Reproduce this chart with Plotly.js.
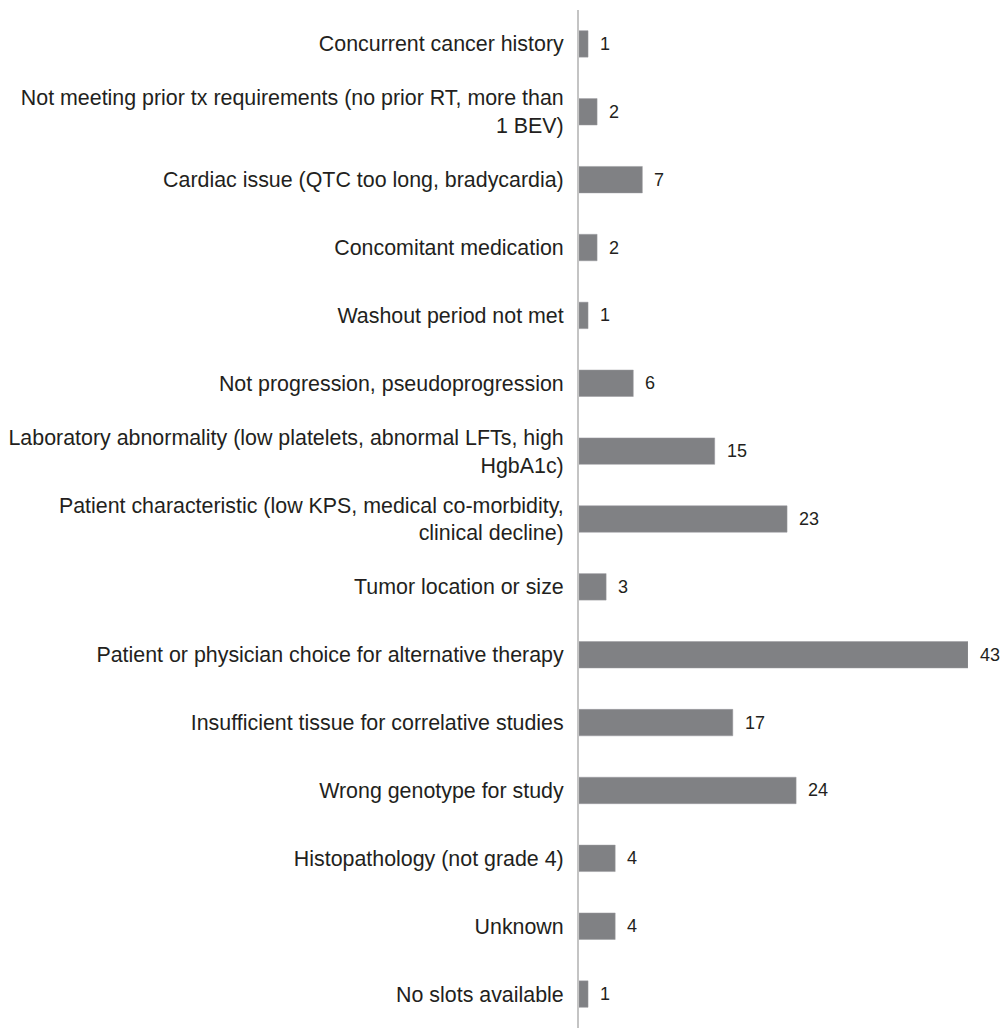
<!DOCTYPE html>
<html>
<head>
<meta charset="utf-8">
<script src="https://cdn.plot.ly/plotly-3.0.1.min.js"></script>
<style>html,body{margin:0;padding:0;background:#fff;}</style>
</head>
<body>
<div id="chart" style="width:1003px;height:1028px;"></div>
<script>
const categories = [
  "Concurrent cancer history",
  "Not meeting prior tx requirements (no prior RT, more than<br>1 BEV)",
  "Cardiac issue (QTC too long, bradycardia)",
  "Concomitant medication",
  "Washout period not met",
  "Not progression, pseudoprogression",
  "Laboratory abnormality (low platelets, abnormal LFTs, high<br>HgbA1c)",
  "Patient characteristic (low KPS, medical co-morbidity,<br>clinical decline)",
  "Tumor location or size",
  "Patient or physician choice for alternative therapy",
  "Insufficient tissue for correlative studies",
  "Wrong genotype for study",
  "Histopathology (not grade 4)",
  "Unknown",
  "No slots available"
];
const counts = [1, 2, 7, 2, 1, 6, 15, 23, 3, 43, 17, 24, 4, 4, 1];

const textColor = "#231f20";
const annotations = categories.map((c, i) => ({
  x: counts[i], y: c, xref: "x", yref: "y",
  text: String(counts[i]), showarrow: false,
  xanchor: "left", xshift: 10,
  font: {family: "Liberation Sans, Arial, sans-serif", size: 18, color: textColor}
}));

Plotly.newPlot("chart", [{
  type: "bar",
  orientation: "h",
  x: counts,
  y: categories,
  marker: {color: "#808184", line: {color: "#9a9b9e", width: 0.5}},
  hoverinfo: "none"
}], {
  width: 1003, height: 1028,
  margin: {l: 579, r: 35, t: 10, b: 0, autoexpand: false},
  paper_bgcolor: "#ffffff", plot_bgcolor: "#ffffff",
  bargap: 0.61,
  showlegend: false,
  font: {family: "Liberation Sans, Arial, sans-serif", color: textColor},
  xaxis: {range: [0, 43], visible: false, fixedrange: true},
  yaxis: {
    autorange: "reversed", type: "category",
    showline: true, linecolor: "#c4c4c4", linewidth: 2,
    showgrid: false, zeroline: false, ticks: "",
    ticklabelstandoff: 9,
    tickfont: {family: "Liberation Sans, Arial, sans-serif", size: 21.4, color: textColor},
    automargin: false
  },
  annotations: annotations
}, {displayModeBar: false, staticPlot: true});
</script>
</body>
</html>
